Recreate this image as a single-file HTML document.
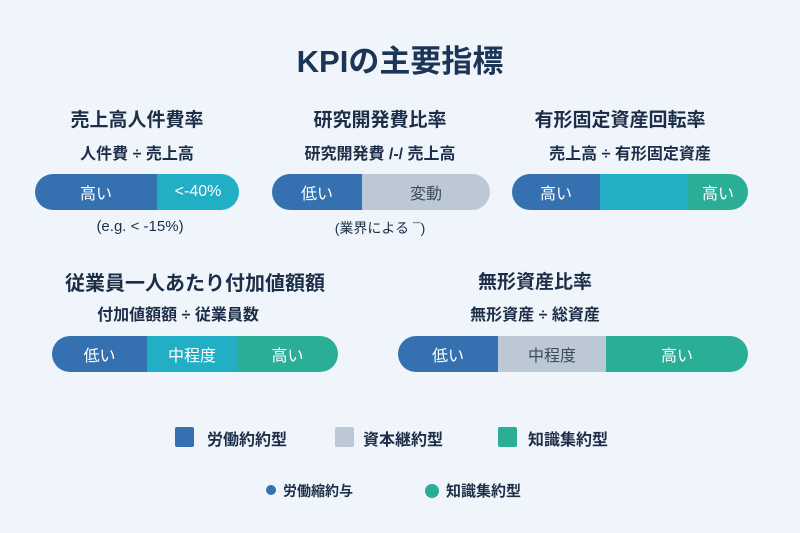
<!DOCTYPE html>
<html><head><meta charset="utf-8"><style>
*{margin:0;padding:0;box-sizing:border-box}
body{width:800px;height:533px;background:#eff5fb;position:relative;overflow:hidden;font-family:"Liberation Sans","Noto Sans CJK JP",sans-serif;color:#1d2f48}
.t{position:absolute;transform:translateX(-50%);white-space:nowrap;font-weight:bold}
.bar{position:absolute;height:36px;border-radius:18px;overflow:hidden;display:flex}
.bar div{height:100%;display:flex;align-items:center;justify-content:center;color:#fff;font-size:16px}
.b{background:#3570b0}.c{background:#22aec4}.g{background:#bcc8d3;color:#3d4d60!important}.n{background:#2bae96}
.sq{position:absolute;width:19px;height:20px;border-radius:2px}
.lt{position:absolute;font-size:16px;font-weight:bold}
.dot{position:absolute;width:10px;height:10px;border-radius:50%}
</style></head><body>
<div class="t" style="left:400px;top:36px;font-size:31px;color:#1c3557">KPIの主要指標</div>

<div class="t" style="left:137px;top:105px;font-size:19px">売上高人件費率</div>
<div class="t" style="left:137px;top:140px;font-size:16px">人件費 ÷ 売上高</div>
<div class="bar" style="left:35px;top:174px;width:204px"><div class="b" style="width:122px">高い</div><div class="c" style="flex:1">&lt;-40%</div></div>
<div class="t" style="left:140px;top:218px;font-size:15px;font-weight:normal">(e.g. &lt; -15%)</div>

<div class="t" style="left:380px;top:105px;font-size:19px">研究開発費比率</div>
<div class="t" style="left:380px;top:140px;font-size:16px">研究開発費 /-/ 売上高</div>
<div class="bar" style="left:272px;top:174px;width:218px"><div class="b" style="width:90px">低い</div><div class="g" style="flex:1">変動</div></div>
<div class="t" style="left:380px;top:218px;font-size:14px;font-weight:normal">(業界による ¯)</div>

<div class="t" style="left:620px;top:105px;font-size:19px">有形固定資産回転率</div>
<div class="t" style="left:630px;top:140px;font-size:16px">売上高 ÷ 有形固定資産</div>
<div class="bar" style="left:512px;top:174px;width:236px"><div class="b" style="width:88px">高い</div><div class="c" style="width:88px"></div><div class="n" style="flex:1">高い</div></div>

<div class="t" style="left:195px;top:267px;font-size:20px">従業員一人あたり付加値額額</div>
<div class="t" style="left:178px;top:301px;font-size:16px">付加値額額 ÷ 従業員数</div>
<div class="bar" style="left:52px;top:336px;width:286px"><div class="b" style="width:95px">低い</div><div class="c" style="width:90px">中程度</div><div class="n" style="flex:1">高い</div></div>

<div class="t" style="left:535px;top:267px;font-size:19px">無形資産比率</div>
<div class="t" style="left:535px;top:301px;font-size:16px">無形資産 ÷ 総資産</div>
<div class="bar" style="left:398px;top:336px;width:350px"><div class="b" style="width:100px">低い</div><div class="g" style="width:108px">中程度</div><div class="n" style="flex:1">高い</div></div>

<div class="sq b" style="left:175px;top:427px"></div><div class="lt" style="left:207px;top:426px">労働約約型</div>
<div class="sq g" style="left:335px;top:427px"></div><div class="lt" style="left:363px;top:426px">資本継約型</div>
<div class="sq n" style="left:498px;top:427px"></div><div class="lt" style="left:528px;top:426px">知識集約型</div>

<div class="dot b" style="left:266px;top:485px"></div><div class="lt" style="left:283px;top:481px;font-size:14px">労働縮約与</div>
<div class="dot n" style="left:425px;top:484px;width:14px;height:14px"></div><div class="lt" style="left:446px;top:480px;font-size:15px">知識集約型</div>
</body></html>
